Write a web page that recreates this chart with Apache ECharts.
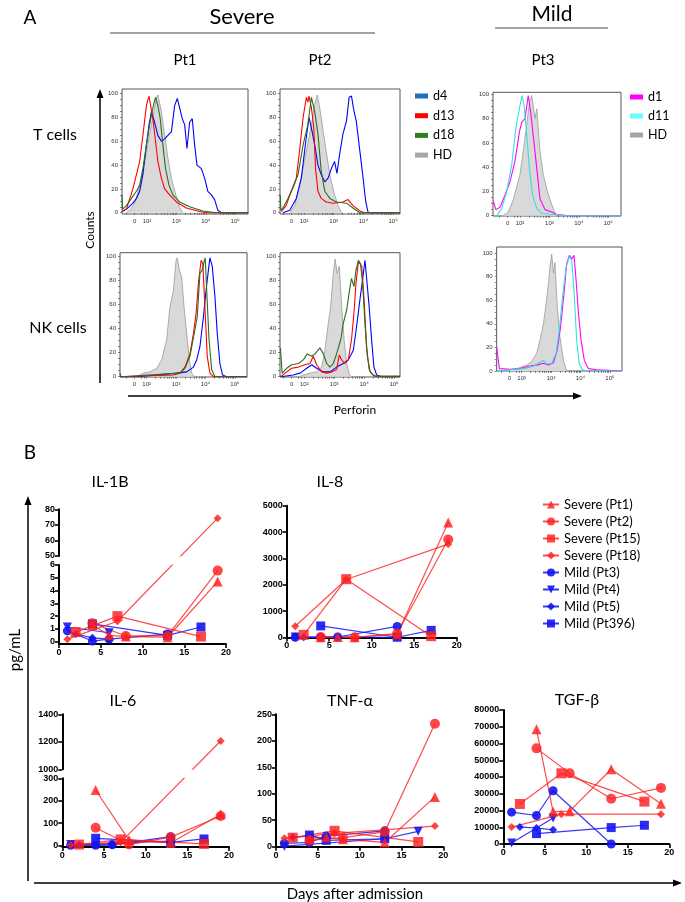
<!DOCTYPE html>
<html><head><meta charset="utf-8">
<script src="https://cdn.jsdelivr.net/npm/echarts@6/dist/echarts.min.js"></script>
<style>html,body{margin:0;padding:0;background:#fff}#c{width:685px;height:902px}</style>
</head><body><div id="c"></div>
<script>
// ================= DATA =================
// Panel A: flow cytometry histograms, points are [log10 position of perforin, % of max]
const T_PT1_HD  = [[1.30,0],[1.45,3],[1.60,9],[1.75,23],[1.98,51],[2.15,74],[2.32,96],[2.37,99],[2.49,85],[2.60,65],[2.71,46],[2.83,29],[2.98,15],[3.11,4],[3.22,0]];
const T_PT1_D4  = [[1.16,1],[1.35,4],[1.52,8],[1.64,12],[1.75,18],[1.86,32],[1.98,57],[2.07,74],[2.15,85],[2.26,76],[2.37,65],[2.49,60],[2.60,62],[2.71,65],[2.83,68],[2.94,90],[3.03,96],[3.11,88],[3.20,79],[3.28,74],[3.36,54],[3.45,76],[3.54,79],[3.62,57],[3.70,40],[3.85,37],[3.96,29],[4.07,18],[4.19,15],[4.30,11],[4.41,2],[4.53,0],[5.44,0]];
const T_PT1_D13 = [[1.15,1],[1.18,0],[1.30,3],[1.52,20],[1.75,43],[1.86,65],[1.98,90],[2.03,95],[2.07,98],[2.11,92],[2.15,92],[2.20,79],[2.29,60],[2.37,43],[2.49,29],[2.60,20],[2.77,15],[3.00,9],[3.34,4],[3.79,1],[4.02,0],[5.44,0]];
const T_PT1_D18 = [[1.15,15],[1.17,3],[1.30,6],[1.47,12],[1.64,18],[1.75,23],[1.86,37],[1.98,57],[2.09,74],[2.20,88],[2.29,97],[2.37,90],[2.45,79],[2.54,57],[2.63,37],[2.75,23],[2.88,15],[3.11,9],[3.45,5],[3.90,1.4],[4.36,0],[5.44,0]];

const T_PT2_HD  = [[1.52,0],[1.69,6],[1.85,23],[2.08,52],[2.25,74],[2.36,91],[2.45,99],[2.55,85],[2.66,66],[2.78,46],[2.89,29],[3.03,15],[3.15,6],[3.26,0]];
const T_PT2_D4  = [[1.29,0],[1.52,2],[1.74,12],[1.91,29],[2.06,60],[2.17,80],[2.25,71],[2.36,57],[2.47,40],[2.58,32],[2.70,26],[2.81,29],[2.92,37],[3.03,43],[3.11,33],[3.20,49],[3.31,66],[3.43,77],[3.52,97],[3.60,98],[3.67,87],[3.76,77],[3.88,52],[3.99,29],[4.08,9],[4.16,0],[5.23,0]];
const T_PT2_D13 = [[1.24,1],[1.40,6],[1.57,18],[1.74,29],[1.85,52],[1.97,80],[2.08,97],[2.13,93],[2.17,98],[2.25,88],[2.33,71],[2.39,37],[2.47,18],[2.58,12],[2.75,9],[2.98,8],[3.31,9],[3.48,11],[3.65,6],[3.88,1.5],[4.04,0],[5.23,0]];
const T_PT2_D18 = [[1.20,15],[1.22,2],[1.29,4],[1.46,12],[1.63,21],[1.80,32],[1.97,57],[2.13,74],[2.25,97],[2.36,85],[2.47,66],[2.58,35],[2.70,18],[2.87,12],[3.09,9],[3.43,8],[3.65,4],[3.88,0],[5.23,0]];

const T_PT3_HD  = [[1.43,0],[1.60,3],[1.77,13],[2.00,34],[2.11,53],[2.23,75],[2.32,93],[2.40,99],[2.51,80],[2.57,88],[2.68,53],[2.79,34],[2.93,20],[3.08,9],[3.19,2],[3.27,0]];
const T_PT3_D1  = [[1.09,12],[1.13,12],[1.18,5],[1.32,7],[1.49,17],[1.66,28],[1.83,45],[1.98,69],[2.06,77],[2.17,80],[2.28,99],[2.36,86],[2.45,66],[2.57,39],[2.68,14],[2.85,5],[3.08,3],[3.25,1],[3.70,0],[5.44,0]];
const T_PT3_D11 = [[1.21,0],[1.38,6],[1.55,20],[1.72,42],[1.86,72],[2.00,91],[2.07,99],[2.14,91],[2.23,66],[2.32,39],[2.43,17],[2.57,6],[2.74,2],[3.13,1],[3.59,0],[5.44,0]];

const NK_PT1_HD  = [[1.66,0],[1.89,3],[2.11,4],[2.34,7],[2.51,14],[2.68,31],[2.79,58],[2.91,72],[3.00,97],[3.04,99],[3.11,89],[3.19,83],[3.27,58],[3.36,36],[3.45,14],[3.53,3],[3.61,0]];
const NK_PT1_D4  = [[1.09,0],[1.70,0],[2.34,1.4],[3.02,3],[3.36,4],[3.59,8],[3.70,14],[3.81,25],[3.93,50],[4.02,72],[4.10,89],[4.15,99],[4.23,92],[4.32,67],[4.40,36],[4.49,11],[4.58,1.4],[4.72,0],[5.41,0]];
const NK_PT1_D13 = [[1.09,0],[2.91,1.4],[3.13,3],[3.30,8],[3.47,19],[3.59,36],[3.68,53],[3.76,78],[3.85,97],[3.91,94],[3.98,58],[4.06,17],[4.15,3],[4.27,0],[5.41,0]];
const NK_PT1_D18 = [[1.09,3],[1.12,0],[3.13,3],[3.30,7],[3.47,17],[3.64,39],[3.72,50],[3.81,86],[3.89,89],[3.96,97],[3.99,99],[4.04,72],[4.12,31],[4.21,6],[4.32,0],[5.20,0],[5.23,1],[5.26,0],[5.41,0]];

const NK_PT2_HD  = [[1.86,0.5],[2.19,3],[2.41,4],[2.58,8],[2.69,22],[2.80,44],[2.88,58],[2.97,86],[3.03,98],[3.10,86],[3.17,92],[3.25,58],[3.33,31],[3.42,11],[3.51,1.4],[3.58,0]];
const NK_PT2_D4  = [[1.20,0],[1.63,1.4],[1.86,3],[2.08,7],[2.25,10],[2.41,7],[2.64,4],[2.86,4],[3.08,8],[3.30,11],[3.47,14],[3.64,22],[3.75,42],[3.86,64],[3.95,81],[4.03,97],[4.11,75],[4.17,58],[4.25,31],[4.33,8],[4.42,1.4],[4.59,0],[5.20,0]];
const NK_PT2_D13 = [[1.20,0],[1.41,4],[1.58,7],[1.80,8],[2.02,10],[2.19,11],[2.30,17],[2.41,10],[2.58,4],[2.75,3],[2.91,4],[3.08,6],[3.17,18],[3.25,14],[3.36,11],[3.47,14],[3.58,31],[3.66,53],[3.73,78],[3.81,96],[3.86,97],[3.92,92],[4.00,64],[4.08,25],[4.17,6],[4.29,1.4],[4.42,0],[5.20,0]];
const NK_PT2_D18 = [[1.20,24],[1.26,3],[1.41,7],[1.58,10],[1.80,11],[1.97,14],[2.10,19],[2.25,17],[2.36,19],[2.52,24],[2.64,19],[2.75,11],[2.86,8],[2.97,11],[3.08,19],[3.22,31],[3.30,44],[3.42,56],[3.53,75],[3.58,82],[3.66,75],[3.73,89],[3.81,97],[3.88,94],[3.95,78],[4.03,44],[4.11,17],[4.20,4],[4.36,0.5],[5.20,0.5]];

const NK_PT3_HD  = [[1.38,0],[1.83,2],[2.17,5],[2.34,8],[2.51,15],[2.62,26],[2.74,40],[2.83,57],[2.91,74],[2.96,88],[3.02,99],[3.08,83],[3.13,92],[3.21,54],[3.30,29],[3.42,9],[3.53,0]];
const NK_PT3_D1  = [[1.15,20],[1.18,20],[1.24,2],[1.60,1.4],[1.94,2],[2.23,4],[2.51,5],[2.74,6.5],[2.91,5],[3.08,7],[3.21,18],[3.32,37],[3.44,66],[3.53,91],[3.62,98],[3.70,95],[3.78,98],[3.85,77],[3.93,49],[4.02,26],[4.13,9],[4.27,2],[4.55,1],[5.41,0]];
const NK_PT3_D11 = [[1.15,0],[1.60,1],[2.06,2],[2.40,4],[2.65,8],[2.74,9],[2.85,6],[3.02,6.5],[3.17,15],[3.28,35],[3.39,63],[3.51,88],[3.62,97],[3.70,94],[3.78,68],[3.87,26],[3.96,6],[4.07,1],[4.20,0],[5.41,0]];

const HIST_X_LABELS = ['0', '10²', '10³', '10⁴', '10⁵'];
const HIST_X_LABEL_POS = [1.58, 2, 3, 4, 5];
const HIST_Y_LABELS = [0, 20, 40, 60, 80, 100];

// Panel B: cytokines, points are [day after admission, pg/mL]
const PATIENTS = ['Severe (Pt1)', 'Severe (Pt2)', 'Severe (Pt15)', 'Severe (Pt18)', 'Mild (Pt3)', 'Mild (Pt4)', 'Mild (Pt5)', 'Mild (Pt396)'];

const IL1B_PT1 = [[4,1.3],[6,0.5],[8,0.4],[13,0.35],[19,4.7]];
const IL1B_PT2 = [[4,1.45],[8,0.45],[13,0.45],[19,5.56]];
const IL1B_PT15 = [[2,0.75],[7,2.0],[17,0.4]];
const IL1B_PT18 = [[1,0.2],[7,1.6],[19,74.3]];
const IL1B_PT3 = [[1,0.85],[4,0.05],[6,0.2],[13,0.6]];
const IL1B_PT4 = [[1,1.15],[6,0.7]];
const IL1B_PT5 = [[2,0.6],[4,0.3],[6,0.2]];
const IL1B_PT396 = [[4,1.4],[13,0.5],[17,1.15]];

const IL8_PT1 = [[4,10],[6,20],[8,10],[13,120],[19,4363]];
const IL8_PT2 = [[4,20],[8,10],[13,150],[19,3718]];
const IL8_PT15 = [[2,100],[7,2212],[17,50]];
const IL8_PT18 = [[1,429],[7,2200],[19,3540]];
const IL8_PT3 = [[1,5],[4,10],[6,20],[13,420]];
const IL8_PT4 = [[1,15],[13,5]];
const IL8_PT5 = [[2,5],[4,8],[6,10]];
const IL8_PT396 = [[4,440],[13,10],[17,270]];

const IL6_PT1 = [[4,248],[8,25],[13,12],[19,140]];
const IL6_PT2 = [[4,80],[8,5],[13,38],[19,132]];
const IL6_PT15 = [[2,5],[7,28],[17,8]];
const IL6_PT18 = [[1,3],[7,15],[19,1206]];
const IL6_PT3 = [[1,2],[4,2],[6,4],[13,40]];
const IL6_PT4 = [[1,5],[13,20]];
const IL6_PT5 = [[2,4],[4,3],[6,5]];
const IL6_PT396 = [[4,33],[13,15],[17,30]];

const TNF_PT1 = [[4,15],[6,18],[8,14],[13,8],[19,94]];
const TNF_PT2 = [[4,12],[8,17],[13,28],[19,232]];
const TNF_PT15 = [[2,17],[7,30],[17,9]];
const TNF_PT18 = [[1,16],[7,25],[19,39]];
const TNF_PT3 = [[1,6],[4,8],[6,20],[13,30]];
const TNF_PT4 = [[1,1],[13,15],[17,29]];
const TNF_PT5 = [[2,18],[4,20],[6,16]];
const TNF_PT396 = [[4,22],[6,12],[13,15]];

const TGF_PT1 = [[4,68500],[6,19300],[8,19600],[13,44600],[19,24000]];
const TGF_PT2 = [[4,57100],[8,42200],[13,27000],[19,33500]];
const TGF_PT15 = [[2,23900],[7,42200],[17,25300]];
const TGF_PT18 = [[1,10100],[7,17800],[19,17800]];
const TGF_PT3 = [[1,19000],[4,17000],[6,31800],[13,0]];
const TGF_PT4 = [[1,600],[6,15500]];
const TGF_PT5 = [[2,10200],[4,9500],[6,8500]];
const TGF_PT396 = [[4,6200],[13,9800],[17,11200]];

// ================= BUILD =================
const FONT = 'Lato, "Open Sans", sans-serif';
const NUMFONT = '"Liberation Sans", Arial, sans-serif';
const option = {animation:false, backgroundColor:'#fff', textStyle:{fontFamily:FONT},
  grid:[], xAxis:[], yAxis:[], series:[], legend:[], graphic:{elements:[]}};
const addGrid = g => (option.grid.push(g), option.grid.length-1);
const addX = a => (option.xAxis.push(a), option.xAxis.length-1);
const addY = a => (option.yAxis.push(a), option.yAxis.length-1);

// ---- Panel A ----
const CURVE_COLORS = {HD:'#a3a3a3', d4:'#0000ff', d13:'#ff0000', d18:'#2a6e1c', d1:'#ff00ff', d11:'#33e0e0'};
const HIST = [
  {left:122, right:248, top:89,    bottom:214, x2:147,   ppd:29.4, y100:93.7,  y0:212.7, curves:[['HD',T_PT1_HD],['d4',T_PT1_D4],['d13',T_PT1_D13],['d18',T_PT1_D18]]},
  {left:280, right:400, top:89,    bottom:214, x2:304,   ppd:29.7, y100:93.7,  y0:212.7, curves:[['HD',T_PT2_HD],['d4',T_PT2_D4],['d13',T_PT2_D13],['d18',T_PT2_D18]]},
  {left:493, right:621, top:92.3,  bottom:216, x2:520,   ppd:29.4, y100:94.3,  y0:215.7, curves:[['HD',T_PT3_HD],['d1',T_PT3_D1],['d11',T_PT3_D11]]},
  {left:120, right:247, top:252.7, bottom:377, x2:146.7, ppd:29.4, y100:256.7, y0:376.7, curves:[['HD',NK_PT1_HD],['d4',NK_PT1_D4],['d13',NK_PT1_D13],['d18',NK_PT1_D18]]},
  {left:280, right:400, top:252.7, bottom:377, x2:304.3, ppd:29.9, y100:256.7, y0:376.7, curves:[['HD',NK_PT2_HD],['d4',NK_PT2_D4],['d13',NK_PT2_D13],['d18',NK_PT2_D18]]},
  {left:496.7, right:622, top:247, bottom:371, x2:521.7, ppd:29.4, y100:253,   y0:371,   curves:[['HD',NK_PT3_HD],['d1',NK_PT3_D1],['d11',NK_PT3_D11]]}
];
const histXTicks = [1.3, HIST_X_LABEL_POS[0], 1.8, 1.9];
for (let d = 2; d < 5; d++) for (let k = 1; k < 10; k++) histXTicks.push(d + Math.log10(k));
histXTicks.push(5);
const histYTicks = []; for (let v = 0; v <= 100; v += 5) histYTicks.push(v);

HIST.forEach(h => {
  const gi = addGrid({left:h.left, top:h.top, width:h.right-h.left, height:h.bottom-h.top, show:true, borderColor:'#555', borderWidth:1});
  const xmin = 2-(h.x2-h.left)/h.ppd, xmax = 2+(h.right-h.x2)/h.ppd;
  const ppu = (h.y0-h.y100)/100;
  const ymin = -(h.bottom-h.y0)/ppu, ymax = 100+(h.y100-h.top)/ppu;
  const xi = addX({type:'value', gridIndex:gi, min:xmin, max:xmax, axisLine:{show:false}, splitLine:{show:false},
    axisTick:{show:true, length:2, lineStyle:{color:'#555', width:0.7}, customValues:histXTicks.filter(v=>v>=xmin&&v<=xmax)},
    axisLabel:{customValues:HIST_X_LABEL_POS, fontSize:6, color:'#333', margin:4, fontFamily:NUMFONT,
      formatter:v=>{const i=HIST_X_LABEL_POS.findIndex(p=>Math.abs(p-v)<0.01); return i>=0?HIST_X_LABELS[i]:'';}}});
  const yi = addY({type:'value', gridIndex:gi, min:ymin, max:ymax, axisLine:{show:false}, splitLine:{show:false},
    axisTick:{show:true, length:2, lineStyle:{color:'#555', width:0.7}, customValues:histYTicks},
    axisLabel:{customValues:HIST_Y_LABELS, fontSize:6, color:'#333', margin:4, fontFamily:NUMFONT}});
  h.curves.forEach(([name, data]) => {
    const s = {type:'line', name, xAxisIndex:xi, yAxisIndex:yi, data, symbol:'none', clip:true, silent:true,
      lineStyle:{color:CURVE_COLORS[name], width:name==='HD'?0.9:1.1}, itemStyle:{color:CURVE_COLORS[name]}, z:name==='HD'?1:2};
    if (name === 'HD') s.areaStyle = {color:'#d9d9d9', opacity:1};
    option.series.push(s);
  });
});

option.legend.push({left:415, top:89, padding:0, orient:'vertical', icon:'rect', itemWidth:13, itemHeight:5, itemGap:5.7, selectedMode:false,
  textStyle:{fontSize:12.5, lineHeight:14, fontFamily:FONT, color:'#000'},
  data:[{name:'d4', itemStyle:{color:'#1f6fc0'}}, {name:'d13', itemStyle:{color:'#ff0000'}}, {name:'d18', itemStyle:{color:'#2e7d1e'}}, {name:'HD', itemStyle:{color:'#a6a6a6'}}]});
option.legend.push({left:630, top:90, padding:0, orient:'vertical', icon:'rect', itemWidth:13, itemHeight:5, itemGap:5, selectedMode:false,
  textStyle:{fontSize:12.5, lineHeight:14, fontFamily:FONT, color:'#000'},
  data:[{name:'d1', itemStyle:{color:'#ff00ff'}}, {name:'d11', itemStyle:{color:'#66ffff'}}, {name:'HD', itemStyle:{color:'#a6a6a6'}}]});

// ---- Panel B ----
const RED = '#ff1e1e', BLUE = '#1414f0';
const INV_TRI = 'path://M0,0 L10,0 L5,9 Z';
const PSTYLE = [
  {color:RED, symbol:'triangle', size:10},
  {color:RED, symbol:'circle', size:10},
  {color:RED, symbol:'rect', size:10},
  {color:RED, symbol:'diamond', size:8},
  {color:BLUE, symbol:'circle', size:9},
  {color:BLUE, symbol:INV_TRI, size:9},
  {color:BLUE, symbol:'diamond', size:8},
  {color:BLUE, symbol:'rect', size:9}
];
const B_AXIS_LINE = {show:true, onZero:false, lineStyle:{color:'#000', width:2}};
const B_TICK = {show:true, length:4, lineStyle:{color:'#000', width:1.6}};
const B_LABEL = {fontSize:9, fontWeight:'bold', color:'#000', fontFamily:NUMFONT, margin:4, formatter:v=>String(v)};

function pushCytoSeries(datasets, xi, yi, map) {
  const order = [4,5,6,7,0,1,2,3]; // mild drawn first, severe on top
  order.forEach(i => {
    const st = PSTYLE[i];
    option.series.push({type:'line', name:PATIENTS[i], xAxisIndex:xi, yAxisIndex:yi,
      data:datasets[i].map(([d,v]) => [d, map ? map(v) : v]),
      symbol:st.symbol, symbolSize:st.size, clip:true, silent:true, z:3,
      itemStyle:{color:st.color, opacity:st.color===RED?0.82:0.9},
      lineStyle:{color:st.color, width:1.2, opacity:st.color===RED?0.8:0.85}});
  });
}
function xAxisB(gi) {
  return addX({type:'value', gridIndex:gi, min:0, max:20, interval:5, axisLine:B_AXIS_LINE, axisTick:B_TICK,
    axisLabel:B_LABEL, splitLine:{show:false}});
}
function simpleChart(c, datasets) {
  const gi = addGrid({left:c.x0, top:c.top, width:c.x20-c.x0, height:c.bottom-c.top});
  const xi = xAxisB(gi);
  const yi = addY({type:'value', gridIndex:gi, min:0, max:c.max, interval:c.interval, axisLine:B_AXIS_LINE,
    axisTick:B_TICK, axisLabel:B_LABEL, splitLine:{show:false}});
  pushCytoSeries(datasets, xi, yi);
}
function brokenChart(c, datasets) {
  const lowH = c.lowBot-c.lowTop, upH = c.upBot-c.upTop;
  // piecewise scale: value -> pixel height above the zero line
  const vmap = v => v <= c.lowMax ? v/c.lowMax*lowH : (c.lowBot-c.upBot) + (v-c.upMin)/(c.upMax-c.upMin)*upH;
  // lower axis segment
  const lowPpu = lowH/c.lowMax;
  const gL = addGrid({left:c.x0, top:c.lowTop, width:c.x20-c.x0, height:c.axisY-c.lowTop});
  addX({type:'value', gridIndex:gL, min:0, max:20, show:false});
  const lowVals = []; for (let v=0; v<=c.lowMax+1e-9; v+=c.lowInt) lowVals.push(v);
  addY({type:'value', gridIndex:gL, min:-(c.axisY-c.lowBot)/lowPpu, max:c.lowMax, axisLine:B_AXIS_LINE,
    axisTick:Object.assign({}, B_TICK, {customValues:lowVals}), axisLabel:Object.assign({}, B_LABEL, {customValues:lowVals}), splitLine:{show:false}});
  // upper axis segment
  const gU = addGrid({left:c.x0, top:c.upTop, width:c.x20-c.x0, height:upH});
  addX({type:'value', gridIndex:gU, min:0, max:20, show:false});
  addY({type:'value', gridIndex:gU, min:c.upMin, max:c.upMax, interval:c.upInt, axisLine:B_AXIS_LINE,
    axisTick:B_TICK, axisLabel:B_LABEL, splitLine:{show:false}});
  // data layer spanning both segments
  const gM = addGrid({left:c.x0, top:c.upTop, width:c.x20-c.x0, height:c.axisY-c.upTop});
  const xi = xAxisB(gM);
  const yi = addY({type:'value', gridIndex:gM, min:-(c.axisY-c.lowBot), max:c.lowBot-c.upTop, show:false});
  pushCytoSeries(datasets, xi, yi, vmap);
  // white gap across the break
  option.series.push({type:'custom', xAxisIndex:xi, yAxisIndex:yi, z:10, silent:true, clip:true,
    data:[[0, vmap(c.lowMax), 20, c.lowBot-c.upBot]],
    renderItem:(params, api) => {
      const p1 = api.coord([api.value(0), api.value(1)]);
      const p2 = api.coord([api.value(2), api.value(3)]);
      return {type:'rect', shape:{x:p1[0]+2, y:p2[1]+0.5, width:p2[0]-p1[0]-2, height:p1[1]-p2[1]-1}, style:{fill:'#fff'}};
    }});
}

brokenChart({x0:59, x20:226, upTop:509.3, upBot:556, lowTop:565, lowBot:641.7, axisY:644,
  lowMax:6, lowInt:1, upMin:50, upMax:80, upInt:10},
  [IL1B_PT1, IL1B_PT2, IL1B_PT15, IL1B_PT18, IL1B_PT3, IL1B_PT4, IL1B_PT5, IL1B_PT396]);
simpleChart({x0:286.7, x20:456.7, top:505.7, bottom:637.5, max:5000, interval:1000},
  [IL8_PT1, IL8_PT2, IL8_PT15, IL8_PT18, IL8_PT3, IL8_PT4, IL8_PT5, IL8_PT396]);
brokenChart({x0:62.3, x20:229, upTop:714.3, upBot:769.3, lowTop:778.3, lowBot:845.7, axisY:847,
  lowMax:300, lowInt:100, upMin:1000, upMax:1400, upInt:200},
  [IL6_PT1, IL6_PT2, IL6_PT15, IL6_PT18, IL6_PT3, IL6_PT4, IL6_PT5, IL6_PT396]);
simpleChart({x0:276, x20:443.3, top:714.3, bottom:846.7, max:250, interval:50},
  [TNF_PT1, TNF_PT2, TNF_PT15, TNF_PT18, TNF_PT3, TNF_PT4, TNF_PT5, TNF_PT396]);
simpleChart({x0:503.3, x20:669.3, top:710, bottom:844, max:80000, interval:10000},
  [TGF_PT1, TGF_PT2, TGF_PT15, TGF_PT18, TGF_PT3, TGF_PT4, TGF_PT5, TGF_PT396]);

option.legend.push({left:542, top:497, padding:0, orient:'vertical', itemWidth:16, itemHeight:10, itemGap:2, selectedMode:false,
  textStyle:{fontSize:13, lineHeight:15, fontFamily:FONT, color:'#000'}, data:PATIENTS});

// ---- free text and arrows ----
const G = option.graphic.elements;
function txt(text, x, y, size, opts) {
  G.push(Object.assign({type:'text', x, y, silent:true, style:{text, font:`${size}px ${FONT}`, fill:'#000', textAlign:'center', textVerticalAlign:'middle'}}, opts||{}));
}
function seg(x1,y1,x2,y2,w,color) { G.push({type:'line', silent:true, shape:{x1,y1,x2,y2}, style:{stroke:color||'#000', lineWidth:w||1}}); }
function head(points) { G.push({type:'polygon', silent:true, shape:{points}, style:{fill:'#000'}}); }

txt('A', 30, 18, 19);
txt('Severe', 242, 17, 22);
txt('Mild', 552, 14, 21);
seg(110, 33, 375, 33, 1, '#444');
seg(495, 28, 608, 28, 1, '#444');
txt('Pt1', 185, 60, 15); txt('Pt2', 320, 60, 15); txt('Pt3', 543, 60, 15);
txt('T cells', 55, 135, 16); txt('NK cells', 58, 328, 16);
txt('Counts', 90, 230, 12, {rotation:Math.PI/2});
seg(100, 383, 100, 97, 1.5); head([[100,89],[96.5,98],[103.5,98]]);
txt('Perforin', 355, 410, 12);
seg(128, 396, 574, 396, 1.5); head([[582,396],[573,392.5],[573,399.5]]);

txt('B', 30, 453, 19);
txt('IL-1B', 110, 482, 16); txt('IL-8', 330, 482, 16);
txt('IL-6', 123, 701, 16); txt('TNF-α', 350, 701, 16); txt('TGF-β', 577, 700, 16);
txt('pg/mL', 15, 650, 15, {rotation:Math.PI/2});
seg(28, 881, 28, 504, 1.5); head([[28,496],[24.5,505],[31.5,505]]);
seg(34, 883, 674, 883, 1.5); head([[682,883],[673,879.5],[673,886.5]]);
txt('Days after admission', 355, 894, 15);

const chart = echarts.init(document.getElementById('c'), null, {renderer:'canvas'});
chart.setOption(option);
</script></body></html>
